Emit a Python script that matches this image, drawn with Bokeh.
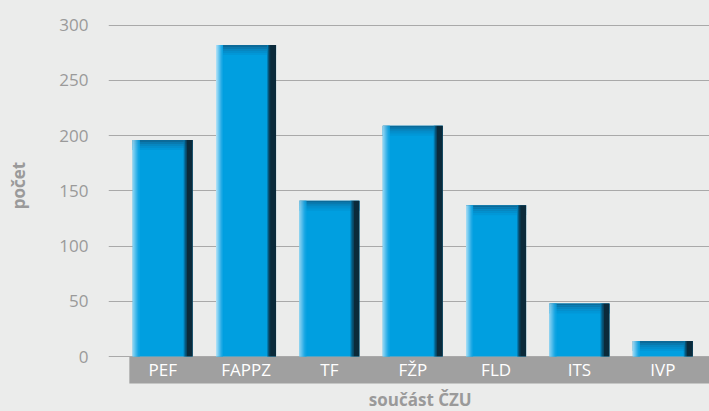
import math
from bokeh.plotting import figure
from bokeh.layouts import row
from bokeh.models import ColumnDataSource, Range1d, FixedTicker, BoxAnnotation, Label
from bokeh.transform import dodge
from bokeh.core.properties import value
from bokeh.embed import file_html
from bokeh.resources import INLINE

# ---- data ----
categories = ["PEF", "FAPPZ", "TF", "FŽP", "FLD", "ITS", "IVP"]
counts = [196, 282, 141, 209, 137, 48, 14]
y_ticks = [0, 50, 100, 150, 200, 250, 300]
x_title = "součást ČZU"
y_title = "počet"

BG = "#ebeceb"
GREY_TXT = "#9a9a9a"
FONT = "Open Sans"

src = ColumnDataSource(dict(x=list(range(len(categories))), v=counts, cat=categories))

# ---- narrow strip holding the y-axis title ----
side = figure(width=40, height=411, x_range=Range1d(0, 40), y_range=Range1d(411, 0),
              output_backend="svg", toolbar_location=None,
              min_border_left=0, min_border_right=0, min_border_top=0, min_border_bottom=0,
              background_fill_color=BG, border_fill_color=BG, outline_line_color=None)
side.axis.visible = False
side.grid.visible = False
side.text(x=[18], y=[185], text=[y_title], angle=math.pi / 2, text_align="center",
          text_baseline="middle", text_color=GREY_TXT, text_font=value(FONT),
          text_font_style="bold", text_font_size="17px")

# ---- main chart ----
p = figure(width=669, height=411,
           x_range=Range1d(-0.65, 6.56), y_range=Range1d(-49.8, 322.4),
           output_backend="svg", toolbar_location=None,
           min_border_left=68, min_border_right=0, min_border_top=0, min_border_bottom=0,
           background_fill_color=BG, border_fill_color=BG, outline_line_color=None)

p.yaxis.ticker = FixedTicker(ticks=y_ticks)
p.yaxis.axis_line_color = None
p.yaxis.major_tick_line_color = None
p.yaxis.minor_tick_line_color = None
p.yaxis.major_label_text_font = FONT
p.yaxis.major_label_text_font_size = "17px"
p.yaxis.major_label_text_color = GREY_TXT
p.yaxis.major_label_standoff = 14
p.xaxis.visible = False

p.xgrid.grid_line_color = None
p.ygrid.grid_line_color = "#a9a9a9"
p.ygrid.grid_line_width = 1

# category band
band = BoxAnnotation(left=-0.4, top=-0.5, bottom=-24.4, fill_color="#a0a0a0", fill_alpha=1.0,
                     line_color=None, level="underlay")
p.add_layout(band)

# bars: main body
W = 0.72
p.vbar(x="x", width=W, top="v", bottom=0, source=src, fill_color="#009fe0", line_color=None)

# darker top edge (gradient in layers)
top_cols = ["#0b6a99", "#0979ae", "#0686c0", "#038fcd", "#0197d7"]
step = 1.8
for k, c in enumerate(top_cols):
    p.vbar(x="x", width=W, top=dodge("v", -k * step), bottom=dodge("v", -(k + 1) * step),
           source=src, fill_color=c, line_color=None)

# light left edge
px = 1.0 / 83.36
left_cols = ["#a8def6", "#8ed4f3", "#72c9f0", "#56beec", "#3ab3e9", "#22aae5", "#10a4e2"]
for i, c in enumerate(left_cols):
    p.vbar(x=dodge("x", -W / 2 + (i + 0.5) * px), width=px * 1.05, top="v", bottom=0,
           source=src, fill_color=c, line_color=None)

# dark right edge
right_cols = ["#047bb0", "#06557a", "#0c3a52"]
for i, c in enumerate(right_cols):
    p.vbar(x=dodge("x", W / 2 - 6 * px - (len(right_cols) - i - 0.5) * px), width=px * 1.05,
           top="v", bottom=0, source=src, fill_color=c, line_color=None)
p.vbar(x=dodge("x", W / 2 - 3 * px), width=6 * px, top="v", bottom=0, source=src,
       fill_color="#0b2a3a", line_color=None)

# category labels in band
p.text(x="x", y=-12.2, text="cat", source=src, text_align="center", text_baseline="middle",
       text_color="white", text_font=value(FONT), text_font_size="17px")

# x title
p.add_layout(Label(x=3.09, y=-38.9, text=x_title, text_align="center", text_baseline="middle",
                   text_font=FONT, text_font_style="bold", text_font_size="17px",
                   text_color=GREY_TXT))

layout = row(side, p, spacing=0)
html = file_html(layout, INLINE)
html = html.replace("</head>",
                    "<style>html, body { background-color: #ebeceb !important; }</style></head>", 1)
open("out.html", "w").write(html)
